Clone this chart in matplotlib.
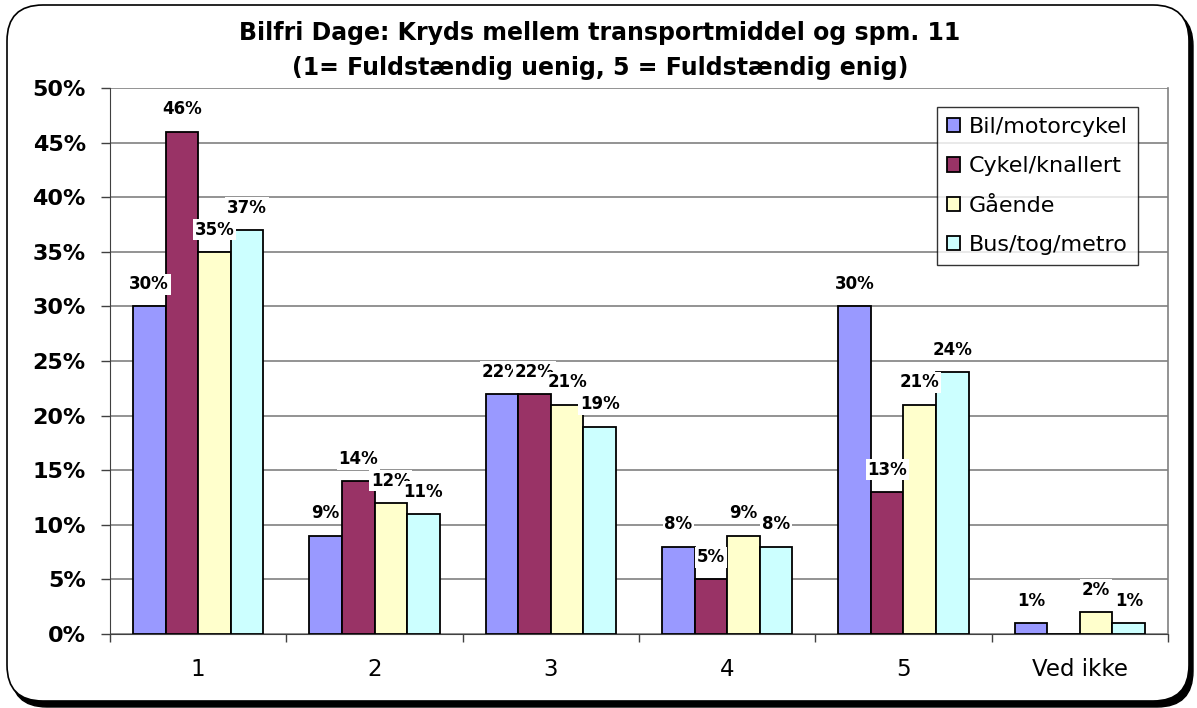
import numpy as np
import matplotlib.pyplot as plt
from matplotlib.patches import FancyBboxPatch
from matplotlib.ticker import MultipleLocator, FuncFormatter

categories = ['1', '2', '3', '4', '5', 'Ved ikke']
series_names = ['Bil/motorcykel', 'Cykel/knallert', 'Gående', 'Bus/tog/metro']
bil = [30, 9, 22, 8, 30, 1]
cykel = [46, 14, 22, 5, 13, 0]
gaaende = [35, 12, 21, 9, 21, 2]
bus = [37, 11, 19, 8, 24, 1]
colors = ['#9999FF', '#993366', '#FFFFCC', '#CCFFFF']

plt.rcParams['font.family'] = ['DejaVu Sans']

W, H = 1197, 708
fig = plt.figure(figsize=(W / 100, H / 100), dpi=100)

# rounded chart frame with shadow
shadow = FancyBboxPatch((11 / W, 1 / H), 1182 / W, 697 / H,
                        boxstyle='round,pad=0,rounding_size=0.03',
                        transform=fig.transFigure, facecolor='black',
                        edgecolor='black', zorder=0, mutation_aspect=W / H)
frame = FancyBboxPatch((7 / W, 7 / H), 1182 / W, 696 / H,
                       boxstyle='round,pad=0,rounding_size=0.03',
                       transform=fig.transFigure, facecolor='white',
                       edgecolor='black', linewidth=1.2, zorder=1,
                       mutation_aspect=W / H)
fig.patches.extend([shadow, frame])

ax = fig.add_axes([110 / W, 1 - 634 / H, (1168 - 110) / W, (634 - 88) / H])
ax.set_zorder(2)
ax.patch.set_alpha(0)

data = [bil, cykel, gaaende, bus]
x = np.arange(len(categories))
bw = 0.185
for i, (vals, name, c) in enumerate(zip(data, series_names, colors)):
    pos = x + (i - 1.5) * bw
    ax.bar(pos, vals, bw, color=c, edgecolor='black', linewidth=1.3,
           label=name, zorder=3)
    for p, v in zip(pos, vals):
        if v == 0:
            continue
        ax.annotate(f'{v}%', (p, v), xytext=(0, 16), textcoords='offset points',
                    ha='center', va='center', fontsize=12, fontweight='bold',
                    zorder=4,
                    bbox=dict(boxstyle='square,pad=0.1', facecolor='white',
                              edgecolor='none'))

ax.set_xlim(-0.5, len(categories) - 0.5)
ax.set_ylim(0, 50)
ax.yaxis.set_major_locator(MultipleLocator(5))
ax.yaxis.set_major_formatter(FuncFormatter(lambda v, _: f'{v:.0f}%'))
ax.grid(axis='y', color='#808080', linewidth=1.2, zorder=0)
ax.set_axisbelow(True)

ax.set_xticks(x)
ax.set_xticklabels(categories, fontsize=16.5)
ax.set_xticks(np.arange(-0.5, len(categories)), minor=True)
ax.tick_params(axis='x', which='major', length=0, pad=17)
ax.tick_params(axis='x', which='minor', length=6, width=1, color='#404040')
ax.tick_params(axis='y', length=6.5, width=1, color='#404040', pad=11)
for lab in ax.get_yticklabels():
    lab.set_fontsize(16)
    lab.set_fontweight('bold')

ax.spines['top'].set_visible(False)
ax.spines['right'].set_color('#808080')
ax.spines['right'].set_linewidth(1.2)
ax.spines['left'].set_color('#404040')
ax.spines['bottom'].set_color('#404040')

leg = ax.legend(loc='upper right', bbox_to_anchor=(1138 / W, 1 - 107 / H),
                bbox_transform=fig.transFigure, fontsize=16, frameon=True,
                fancybox=False, edgecolor='black', handlelength=0.6,
                handleheight=0.6, handletextpad=0.4, labelspacing=0.87,
                borderpad=0.45, borderaxespad=0)
leg.get_frame().set_linewidth(1.0)
leg.set_zorder(5)

fig.text(600 / W, 1 - 33 / H, 'Bilfri Dage: Kryds mellem transportmiddel og spm. 11',
         ha='center', va='center', fontsize=17, fontweight='bold', zorder=3)
fig.text(600 / W, 1 - 68 / H, '(1= Fuldstændig uenig, 5 = Fuldstændig enig)',
         ha='center', va='center', fontsize=17, fontweight='bold', zorder=3)

fig.savefig('out.png', dpi=100)
